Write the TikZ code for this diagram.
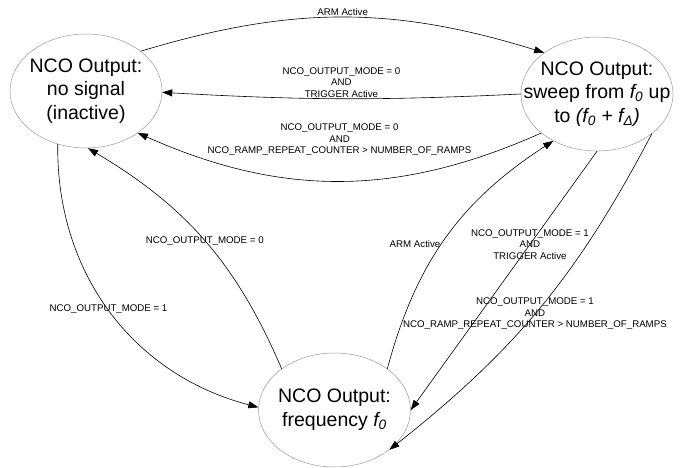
\documentclass[tikz,border=0pt]{standalone}
\usepackage{fontspec}
\setmainfont{Liberation Sans}
\usetikzlibrary{shapes.geometric, arrows.meta}

% text of a state, kept out of the ellipse size
\newcommand{\statetext}[1]{\makebox[0pt]{\raisebox{\dimexpr-0.5\height+0.5\depth\relax}[0pt][0pt]{\begin{tabular}{@{}c@{}}#1\end{tabular}}}}

\tikzset{
	state/.style={draw=black!40, line width=0.5pt, ellipse,
		minimum width=152pt, minimum height=114pt, inner sep=0pt,
		font=\fontsize{19.5}{23.5}\selectfont},
	trans/.style={draw, line width=0.6pt, -{Triangle[length=10pt,width=7pt]}},
	cond/.style={font=\fontsize{9.7}{11.5}\selectfont, align=center, inner sep=1pt}
}

\begin{document}
\begin{tikzpicture}[x=1pt, y=1pt]
	\useasboundingbox (0,0) rectangle (685,-468);
	% draw state nodes
	\node[state] (noSignal) at (86,-91) {
	\statetext{NCO Output:\\no signal\\(inactive)}
	};
	\node[state] (sweep) at (597,-94) {
	\statetext{NCO Output:\\sweep from \textit{f\textsubscript{0}} up\\to \textit{(f\textsubscript{0} + f\textsubscript{Δ})}}
	};
	\node[state] (freq) at (334.5,-410) {
	\statetext{NCO Output:\\frequency \textit{f\textsubscript{0}}}
	};
	
	% Arrows
	\draw[trans] (noSignal.36) to[bend left=17] node[cond, above] {ARM Active} (sweep.142);
	\draw[trans] (sweep.180) to[bend left=3] node[cond, above] {NCO\_OUTPUT\_MODE = 0\\AND\\TRIGGER Active} (noSignal.-1.5);
	\draw[trans] (sweep.215) to[bend left=24] node[cond, above=24pt] {NCO\_OUTPUT\_MODE = 0\\AND\\NCO\_RAMP\_REPEAT\_COUNTER > NUMBER\_OF\_RAMPS} (noSignal.321);
	\draw[trans] (freq.142) to[bend right=18] node[cond] {NCO\_OUTPUT\_MODE = 0} (noSignal.272);
	\draw[trans] (noSignal.242) to[bend right=38] node[cond, pos=0.49] {NCO\_OUTPUT\_MODE = 1} (freq.178);
	\draw[trans] (freq.38) to[bend left=21] node[cond, pos=0.47, left] {ARM Active} (sweep.227);
	\draw[trans] (sweep.270) -- node[cond, pos=0.36] {NCO\_OUTPUT\_MODE = 1\\AND\\TRIGGER Active} (freq.0);
	\draw[trans] (sweep.324) to[bend left=12] node[cond, pos=0.52] {NCO\_OUTPUT\_MODE = 1\\AND\\NCO\_RAMP\_REPEAT\_COUNTER > NUMBER\_OF\_RAMPS} (freq.324);
\end{tikzpicture}
\end{document}
